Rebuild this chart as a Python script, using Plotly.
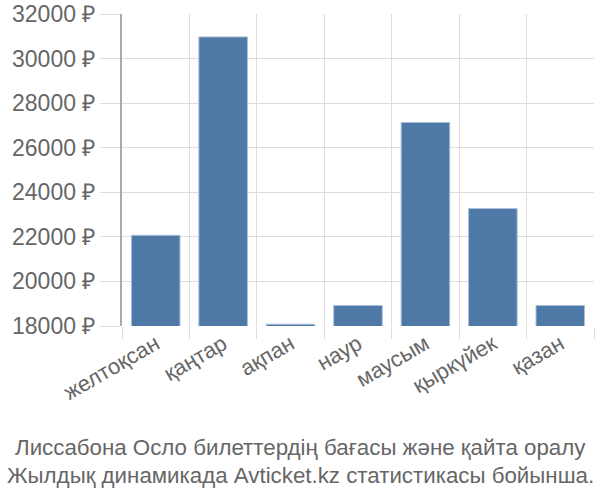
import plotly.graph_objects as go

months = ['желтоқсан', 'қаңтар', 'ақпан', 'наур', 'маусым', 'қыркүйек', 'қазан']
prices = [22070, 30970, 18080, 18920, 27130, 23270, 18920]

y_ticks = [18000, 20000, 22000, 24000, 26000, 28000, 30000, 32000]
y_labels = [f'{v} ₽' for v in y_ticks]

title_lines = ['Лиссабона Осло билеттердің бағасы және қайта оралу',
               'Жылдық динамикада Avticket.kz статистикасы бойынша.']

fig = go.Figure()

fig.add_trace(go.Bar(
    x=months, y=prices,
    marker=dict(color='#4e79a7', line=dict(color='#a9bfd8', width=1)),
    hoverinfo='x+y'
))

# подпись снизу, две строки
for i, line in enumerate(title_lines):
    fig.add_annotation(
        text=line, xref='paper', yref='paper', x=(300 - 122) / 472, y=-(121 + 28 * i) / 312,
        xanchor='center', yanchor='middle', showarrow=False,
        font=dict(size=22.3, color='#666666')
    )

fig.update_layout(
    width=600, height=500,
    margin=dict(l=122, r=6, t=14, b=174),
    paper_bgcolor='white', plot_bgcolor='white',
    font=dict(family='Liberation Sans, Arial, sans-serif', color='#666666', size=22),
    bargap=0.28,
    showlegend=False,
    xaxis=dict(
        type='category', tickson='boundaries', showgrid=True, gridcolor='#dddddd', gridwidth=1,
        ticks='outside', ticklen=12, tickcolor='#dddddd', tickangle=-30,
        tickfont=dict(size=22, color='#666666'), showline=False, zeroline=False,
        automargin=False
    ),
    yaxis=dict(
        range=[18000, 32000], tickvals=y_ticks, ticktext=y_labels,
        showgrid=True, gridcolor='#dddddd', gridwidth=1,
        ticks='outside', ticklen=20, tickcolor='#dddddd',
        showline=True, linecolor='#aaaaaa', linewidth=2,
        tickfont=dict(size=23, color='#666666'), zeroline=False,
        automargin=False, ticklabeloverflow='allow'
    )
)

# убираем отступ body, чтобы график стоял в углу окна
fig.write_html('out.html', config={'displayModeBar': False},
               post_script="document.body.style.margin='0';")
